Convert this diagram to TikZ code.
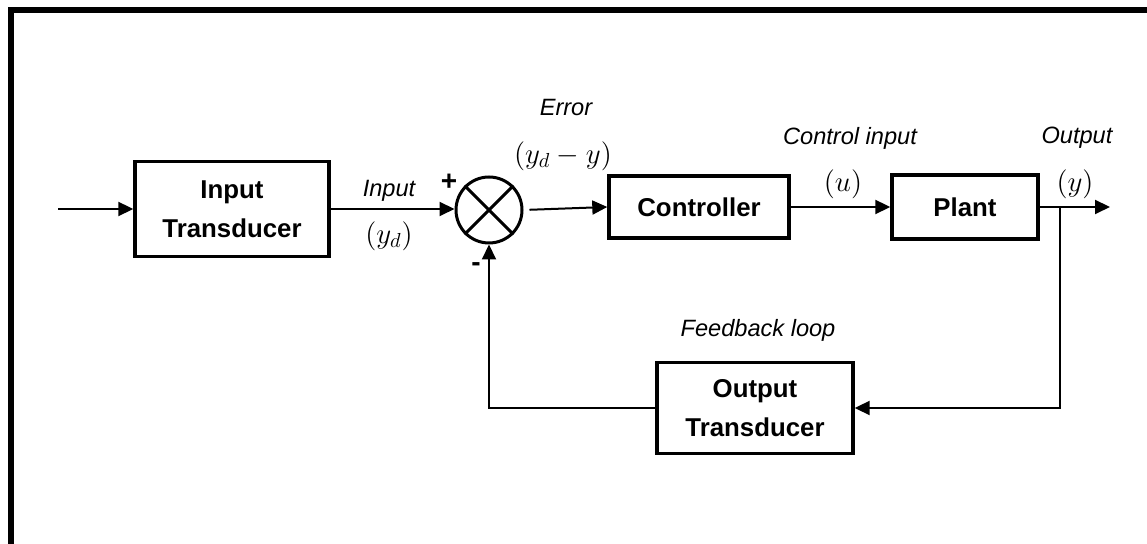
\documentclass[tikz,border=0pt]{standalone}
\usepackage{fix-cm}
\usepackage{fontspec}
\setmainfont{Liberation Sans}
\usetikzlibrary{arrows.meta}
\begin{document}
\begin{tikzpicture}[x=0.5pt, y=-0.5pt,
  blk/.style={draw, line width=1.7pt, rectangle, align=center, inner sep=0pt,
    font=\bfseries\fontsize{12.9}{19.5}\selectfont},
  lbl/.style={font=\itshape\fontsize{11.8}{14}\selectfont, inner sep=0pt},
  mth/.style={font=\fontsize{14.5}{16}\selectfont, inner sep=0pt},
  sgn/.style={font=\bfseries\fontsize{14}{16}\selectfont, inner sep=0pt},
  wire/.style={line width=1pt},
  arr/.style={wire, -{Triangle[length=7.5pt,width=7pt]}}]
  \useasboundingbox (0,0) rectangle (1147,544);
  % frame (top and left edges)
  \draw[line width=3pt, line join=miter] (1147,10) -- (11,10) -- (11,544);

  % blocks
  \node[blk, minimum width=97pt, minimum height=47.5pt] (it) at (232,209) {Input\\Transducer};
  \node[draw, circle, line width=1.5pt, minimum size=33pt, inner sep=0pt] (sum) at (489,210) {};
  \draw[line width=1.5pt] (sum.north west) -- (sum.south east)
                          (sum.north east) -- (sum.south west);
  \node[blk, minimum width=90pt, minimum height=31pt] (ctrl) at (699,207) {Controller};
  \node[blk, minimum width=73pt, minimum height=32pt] (plant) at (965,207) {Plant};
  \node[blk, minimum width=98pt, minimum height=45.5pt] (ot) at (755,408) {Output\\Transducer};

  % free ends and branch point
  \coordinate (in) at (58,209);
  \coordinate (out) at (1110,207);
  \coordinate (br) at (1060,207);

  % signal flow
  \draw[arr] (in) -- (it.west);
  \draw[arr] (it.east) -- (it.east -| sum.west);
  \draw[arr, shorten <=3pt] (sum.east) -- (ctrl.west);
  \draw[arr] (ctrl.east) -- (plant.west);
  \draw[arr] (plant.east) -- (out);
  \draw[arr] (br) |- (ot.east);
  \draw[arr] (ot.west) -| (sum.south);

  % labels
  \node[lbl] (lin) at (389,191) {Input};
  \node[mth] (lyd) at (389,236) {$(y_d)$};
  \node[sgn] (lplus) at (449,182) {+};
  \node[sgn] (lminus) at (476,267) {-};
  \node[lbl] (lerr) at (566,108) {Error};
  \node[mth] (lerrv) at (563,156) {$(y_d - y)$};
  \node[lbl] (lci) at (850,138) {Control input};
  \node[mth] (lu) at (843,184) {$(u)$};
  \node[lbl] (lout) at (1077,138) {Output};
  \node[mth] (ly) at (1075,184) {$(y)$};
  \node[lbl] (lfb) at (758,330) {Feedback loop};
\end{tikzpicture}
\end{document}
